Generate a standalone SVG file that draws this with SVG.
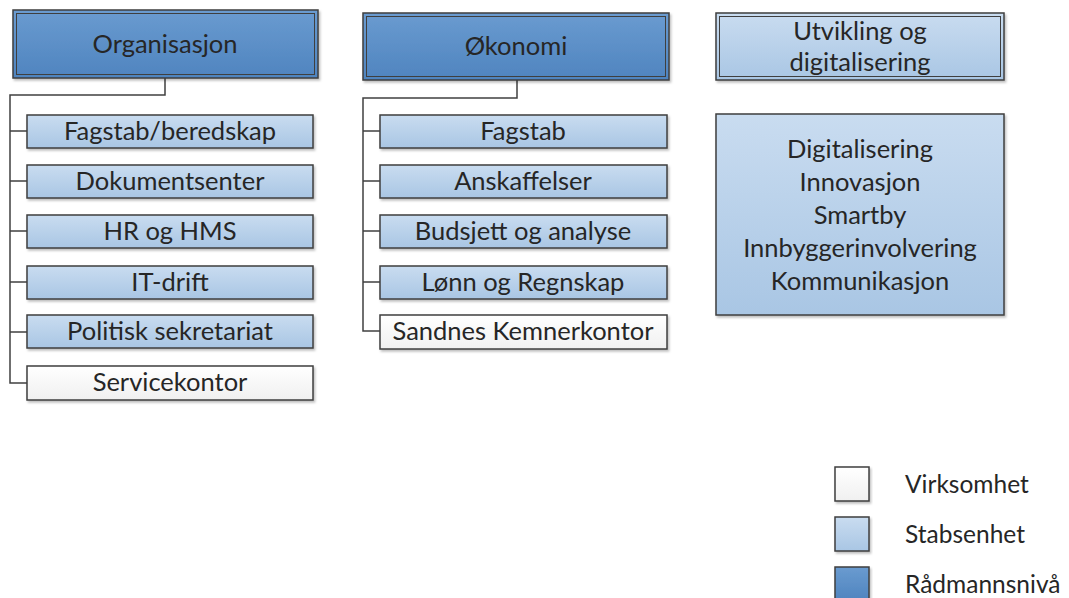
<svg xmlns="http://www.w3.org/2000/svg" width="1069" height="598" viewBox="0 0 1069 598">
<defs>
<linearGradient id="gDark" x1="0" y1="0" x2="0" y2="1"><stop offset="0" stop-color="#6a9bd0"/><stop offset="1" stop-color="#4f84bf"/></linearGradient>
<linearGradient id="gLight" x1="0" y1="0" x2="0" y2="1"><stop offset="0" stop-color="#c9dcf0"/><stop offset="1" stop-color="#a9c6e4"/></linearGradient>
<linearGradient id="gWhite" x1="0" y1="0" x2="0" y2="1"><stop offset="0" stop-color="#ffffff"/><stop offset="1" stop-color="#f0f0f0"/></linearGradient>
<filter id="sh" x="-5%" y="-10%" width="115%" height="130%"><feDropShadow dx="1.5" dy="2" stdDeviation="1.2" flood-color="#000" flood-opacity="0.25"/></filter>
</defs>
<style>
text{font-family:"Lato","Open Sans","Liberation Sans",sans-serif;fill:#262626;text-anchor:middle}
.t{font-size:25.5px}
.box{stroke:#3f3f3f;stroke-width:1.5;filter:url(#sh)}
.dark{fill:url(#gDark)}
.light{fill:url(#gLight)}
.white{fill:url(#gWhite)}
.inner{fill:none;stroke:#3f3f3f;stroke-width:1}
.conn{fill:none;stroke:#404040;stroke-width:1.5}
.leg{text-anchor:start;font-size:24.5px}
</style>
<g id="connectors">
<path class="conn" d="M165 78 V95 H10 V383 H27 M10 131 H27 M10 181 H27 M10 231 H27 M10 282 H27 M10 332 H27"/>
<path class="conn" d="M517 80 V98 H363 V331 H380 M363 131 H380 M363 181 H380 M363 231 H380 M363 282 H380"/>
</g>
<g id="organisasjon"><rect class="box dark" x="13" y="10" width="305" height="68"/><rect class="inner" x="16.5" y="13.5" width="298" height="61"/><text class="t" x="165" y="53">Organisasjon</text></g>
<g id="fagstab-beredskap"><rect class="box light" x="27" y="115" width="286" height="33"/><text class="t" x="170" y="140">Fagstab/beredskap</text></g>
<g id="dokumentsenter"><rect class="box light" x="27" y="165" width="286" height="33"/><text class="t" x="170" y="190">Dokumentsenter</text></g>
<g id="hr-hms"><rect class="box light" x="27" y="215" width="286" height="33"/><text class="t" x="170" y="240">HR og HMS</text></g>
<g id="it-drift"><rect class="box light" x="27" y="266" width="286" height="33"/><text class="t" x="170" y="291">IT-drift</text></g>
<g id="politisk"><rect class="box light" x="27" y="315" width="286" height="33"/><text class="t" x="170" y="340">Politisk sekretariat</text></g>
<g id="servicekontor"><rect class="box white" x="27" y="366" width="286" height="34"/><text class="t" x="170" y="391">Servicekontor</text></g>
<g id="okonomi"><rect class="box dark" x="363" y="13" width="306" height="67"/><rect class="inner" x="366.5" y="16.5" width="299" height="60"/><text class="t" x="516" y="55">Økonomi</text></g>
<g id="fagstab"><rect class="box light" x="380" y="115" width="287" height="33"/><text class="t" x="523" y="140">Fagstab</text></g>
<g id="anskaffelser"><rect class="box light" x="380" y="165" width="287" height="33"/><text class="t" x="523" y="190">Anskaffelser</text></g>
<g id="budsjett"><rect class="box light" x="380" y="215" width="287" height="33"/><text class="t" x="523" y="240">Budsjett og analyse</text></g>
<g id="lonn"><rect class="box light" x="380" y="266" width="287" height="33"/><text class="t" x="523" y="291">Lønn og Regnskap</text></g>
<g id="sandnes"><rect class="box white" x="380" y="315" width="287" height="34"/><text class="t" x="523" y="340">Sandnes Kemnerkontor</text></g>
<g id="utvikling"><rect class="box light" x="716" y="13" width="288" height="67"/><rect class="inner" x="719.5" y="16.5" width="281" height="60"/><text class="t" x="860" y="40">Utvikling og</text><text class="t" x="860" y="71">digitalisering</text></g>
<g id="digitalisering"><rect class="box light" x="716" y="114" width="288" height="201"/><text class="t" x="860" y="158">Digitalisering</text><text class="t" x="860" y="191">Innovasjon</text><text class="t" x="860" y="224">Smartby</text><text class="t" x="860" y="257">Innbyggerinvolvering</text><text class="t" x="860" y="290">Kommunikasjon</text></g>
<g id="legend">
<rect class="box white" x="835" y="467" width="34" height="34"/><text class="leg" x="905" y="493">Virksomhet</text>
<rect class="box light" x="835" y="517" width="34" height="34"/><text class="leg" x="905" y="543">Stabsenhet</text>
<rect class="box dark" x="835" y="567" width="34" height="34"/><text class="leg" x="905" y="593">Rådmannsnivå</text>
</g>
</svg>
